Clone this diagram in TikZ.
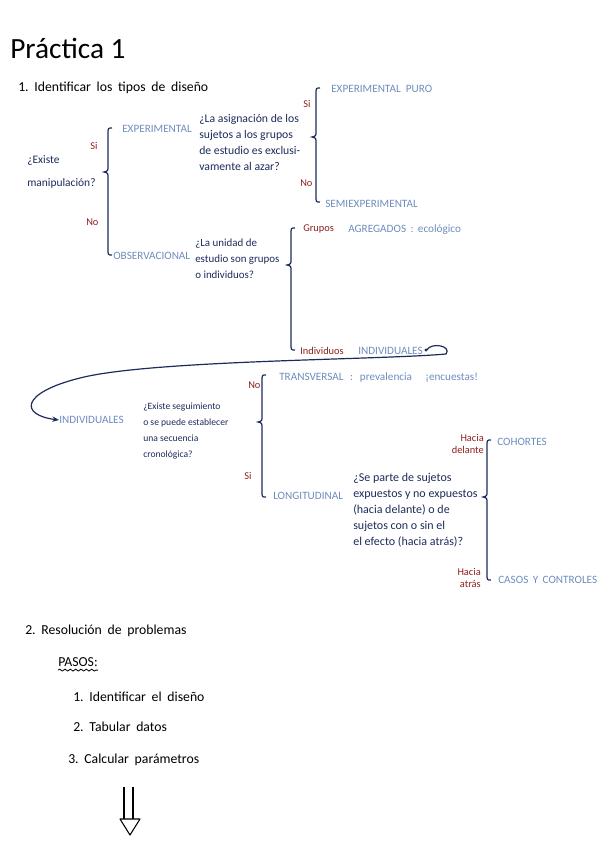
\documentclass[tikz,border=0pt]{standalone}
\usepackage{fontspec}
\setmainfont{Carlito}
\usetikzlibrary{arrows.meta,decorations.pathmorphing}
\definecolor{navy}{HTML}{1C2B5A}
\definecolor{lblue}{HTML}{6E8CBE}
\definecolor{dred}{HTML}{8E1F1F}
\newcommand\mybrace[4]{% x, ytop, ytip, ybot
  \draw[bracestyle] ({#1+4},#2) .. controls (#1,#2) .. (#1,{#2+6}) -- (#1,{#3-6})
    .. controls (#1,{#3-1}) .. ({#1-4},#3) .. controls (#1,{#3+1}) .. (#1,{#3+6})
    -- (#1,{#4-6}) .. controls (#1,#4) .. ({#1+4},#4);}
\newcommand\widesp{\spaceskip=4.3pt plus 1pt\relax}
\begin{document}
\begin{tikzpicture}[x=0.75pt,y=-0.75pt,
  txt/.style={anchor=west,inner sep=0pt,align=left},
  blk/.style={txt,text=black,font=\fontsize{10.3}{12}\selectfont\widesp},
  q/.style={txt,text=navy,font=\fontsize{#1}{12}\selectfont},
  q/.default=8.8,
  cat/.style={txt,text=lblue,font=\fontsize{8.4}{9}\selectfont},
  ans/.style={txt,text=dred,font=\fontsize{7.8}{9.5}\selectfont},
  bracestyle/.style={draw=navy,line width=0.9pt},
  conn/.style={draw=navy,line width=0.9pt}]
\useasboundingbox (0,0) rectangle (600,848);
% title
\node[txt,text=black,font=\fontsize{22}{24}\selectfont] (title) at (10,48) {Práctica 1};
\node[blk] (s1) at (18,88) {1.\ Identificar los tipos de diseño};
% level 1
\node[txt,text=navy,font=\fontsize{8.6}{17}\selectfont] (q1) at (27,172) {¿Existe\\manipulación?};
\mybrace{108}{128}{172}{255}
\node[ans] (si1) at (90,146) {Si};
\node[ans] (no1) at (86,222) {No};
\node[cat] (exp) at (122,129) {EXPERIMENTAL};
\node[q=8.8] (q2) at (199,142) {¿La asignación de los\\sujetos a los grupos\\de estudio es exclusi-\\vamente al azar?};
\mybrace{316}{88}{137}{202}
\node[ans] (si2) at (303,104) {Si};
\node[ans] (no2) at (300,183) {No};
\node[cat] (puro) at (331,89) {EXPERIMENTAL \ PURO};
\node[cat] (semi) at (325,204) {SEMIEXPERIMENTAL};
\node[cat] (obs) at (113,256) {OBSERVACIONAL};
\node[q=8.2] (q3) at (195,259) {¿La unidad de\\estudio son grupos\\o individuos?};
\mybrace{291}{228}{265}{350}
\node[ans] (gru) at (303,229) {Grupos};
\node[cat] (agr) at (348,230) {AGREGADOS \,:\, ecológico};
\node[ans] (ind) at (300,351) {Individuos};
\node[cat] (indiv1) at (358,351) {INDIVIDUALES};
% loop arrow
\node[cat] (indiv2) at (59,420) {INDIVIDUALES};
\fill[navy] (indiv1.east) ++(3,-1) circle (1.6);
\draw[conn,-{Stealth[length=5pt,width=4pt]}] ([xshift=3pt,yshift=1pt]indiv1.east)
  .. controls (432,342) and (452,346) .. (446,354)
  .. controls (380,360) and (150,360) .. (80,378)
  .. controls (20,393) and (20,415) .. (indiv2.west);
\node[q=7.2] (q4) at (143,431) {¿Existe seguimiento\\o se puede establecer\\una secuencia\\cronológica?};
\mybrace{262}{375}{422}{497}
\node[ans] (no4) at (248,385) {No};
\node[ans] (si4) at (244,476) {Si};
\node[cat] (trans) at (279,378) {TRANSVERSAL\hspace{5pt}:\hspace{5pt}prevalencia\hspace{10pt}¡encuestas!};
\node[cat] (longi) at (273,496) {LONGITUDINAL};
\node[q=9] (q5) at (353,510) {¿Se parte de sujetos\\expuestos y no expuestos\\(hacia delante) o de\\sujetos con o sin el\\el efecto (hacia atrás)?};
\mybrace{487}{440}{497}{580}
\node[ans,anchor=east,align=right] (del) at (484,444) {Hacia\\delante};
\node[ans,anchor=east,align=right] (atr) at (481,578) {Hacia\\atrás};
\node[cat] (coh) at (497,442) {COHORTES};
\node[cat] (cas) at (498,580) {CASOS \,Y\, CONTROLES};
% part 2
\node[blk] (s2) at (25,631) {2.\ Resolución de problemas};
\node[blk] (pasos) at (58,662) {PASOS:};
\draw[black,line width=0.6pt,decorate,decoration={snake,amplitude=0.7pt,segment length=4pt}]
  ([yshift=-2.5pt]pasos.south west) -- ([yshift=-2.5pt]pasos.south east);
\node[blk] (p1) at (73,697) {1.\ Identificar el diseño};
\node[blk] (p2) at (73,727) {2.\ Tabular datos};
\node[blk] (p3) at (68,760) {3.\ Calcular parámetros};
% double arrow
\coordinate (ab) at (130,835);
\draw[black,line width=0.8pt] (124,787) -- (124,819) (133,787) -- (133,819);
\draw[black,line width=0.8pt,line join=round] (120,819) -- (140,819) -- (ab) -- cycle;
\end{tikzpicture}
\end{document}
